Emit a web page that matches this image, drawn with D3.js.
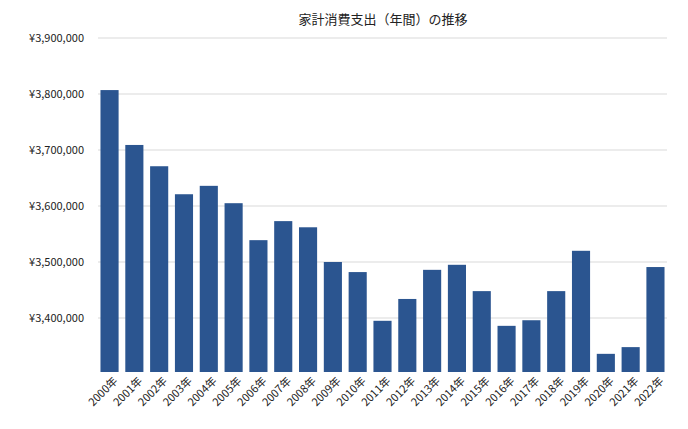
<!DOCTYPE html>
<html><head><meta charset="utf-8">
<script src="https://cdn.jsdelivr.net/npm/d3@7"></script>
<style>body{margin:0;background:#fff;font-family:"Noto Sans CJK JP",sans-serif}</style>
</head><body><svg id="c" width="688" height="429"></svg>
<script>
const categories = ["2000年","2001年","2002年","2003年","2004年","2005年","2006年","2007年","2008年","2009年","2010年","2011年","2012年","2013年","2014年","2015年","2016年","2017年","2018年","2019年","2020年","2021年","2022年"];
const values = [3807000,3709000,3671000,3621000,3636000,3605000,3539000,3573000,3562000,3500000,3482000,3395000,3434000,3486000,3495000,3448000,3386000,3396000,3448000,3520000,3336000,3348000,3491000];
const yTicks = [3400000,3500000,3600000,3700000,3800000,3900000];
const title = "家計消費支出（年間）の推移";

const svg = d3.select("#c");
const L = 98, R = 667, T = 38, B = 374;
const x = d3.scaleBand().domain(categories).range([L, R]).paddingInner(0.27).paddingOuter(0.1);
const y = d3.scaleLinear().domain([3300000, 3900000]).range([B, T]);

svg.append("g").selectAll("line").data(yTicks).join("line")
  .attr("x1", L).attr("x2", R).attr("y1", d => y(d)).attr("y2", d => y(d))
  .attr("stroke", "#d9d9d9").attr("stroke-width", 1);
svg.append("g").selectAll("text").data(yTicks).join("text")
  .attr("x", 84).attr("y", d => y(d)).attr("dy", "0.35em").attr("text-anchor", "end")
  .attr("font-size", 11).attr("fill", "#222")
  .text(d => "¥" + d3.format(",")(d));

svg.append("g").selectAll("rect").data(values).join("rect")
  .attr("x", (d, i) => x(categories[i])).attr("width", x.bandwidth())
  .attr("y", d => y(d)).attr("height", d => B - 2 - y(d))
  .attr("fill", "#2b5590");

svg.append("g").selectAll("text").data(categories).join("text")
  .attr("transform", d => `translate(${x(d) + x.bandwidth() / 2 + 6},${B + 5}) rotate(-45)`)
  .attr("text-anchor", "end").attr("dy", "0.35em")
  .attr("font-size", 11).attr("fill", "#222").text(d => d);

svg.append("text").attr("x", 383).attr("y", 24).attr("text-anchor", "middle")
  .attr("font-size", 13).attr("fill", "#222").text(title);
</script></body></html>
